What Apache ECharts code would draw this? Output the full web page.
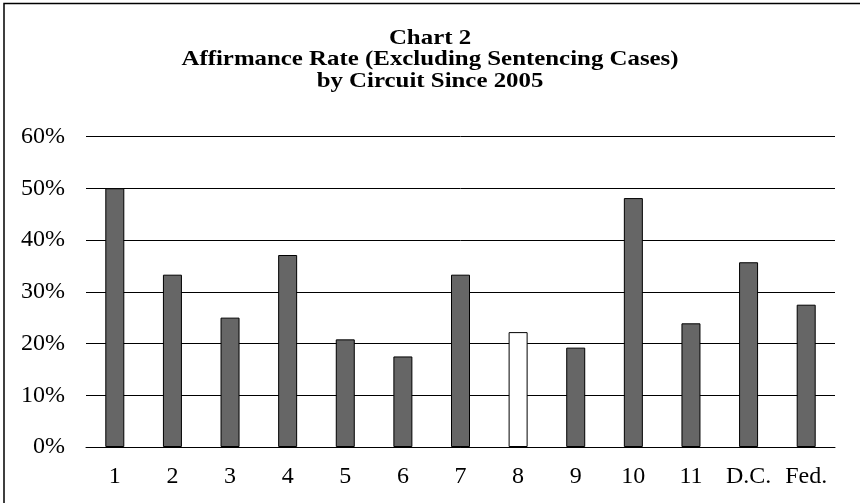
<!DOCTYPE html>
<html>
<head>
<meta charset="utf-8">
<script src="https://cdn.jsdelivr.net/npm/echarts@6/dist/echarts.min.js"></script>
<style>
html,body{margin:0;padding:0;background:#fff;}
#chart{width:860px;height:503px;}
</style>
</head>
<body>
<div id="chart"></div>
<script>
var titleLines = ['Chart 2', 'Affirmance Rate (Excluding Sentencing Cases)', 'by Circuit Since 2005'];
var categories = ['1','2','3','4','5','6','7','8','9','10','11','D.C.','Fed.'];
var rates = [50.0, 33.3, 25.0, 37.1, 20.8, 17.5, 33.3, 22.2, 19.2, 48.1, 23.9, 35.7, 27.5];
var highlightIndex = 7;
var yTicks = [0, 10, 20, 30, 40, 50, 60];

var chart = echarts.init(document.getElementById('chart'), null, {renderer: 'canvas'});
var font = '"Liberation Serif", "Times New Roman", serif';
chart.setOption({
  backgroundColor: '#fff',
  animation: false,
  graphic: [{
    type: 'rect',
    shape: {x: 4, y: 3.5, width: 900, height: 600},
    style: {fill: 'none', stroke: '#000', lineWidth: 1.5},
    silent: true
  }, {
    type: 'text',
    x: 430,
    y: 27.5,
    scaleX: 1.13,
    scaleY: 1,
    silent: true,
    style: {
      x: 0, y: 0,
      text: titleLines.join('\n'),
      font: 'bold 22px ' + font,
      fill: '#000',
      align: 'center',
      verticalAlign: 'top',
      textAlign: 'center',
      textVerticalAlign: 'top',
      lineHeight: 21.5
    }
  }],
  grid: {left: 86, right: 25, top: 136.5, bottom: 56, containLabel: false},
  xAxis: {
    type: 'category',
    data: categories,
    axisLine: {show: true, lineStyle: {color: '#000', width: 1}},
    axisTick: {show: false},
    axisLabel: {fontFamily: font, fontSize: 24, color: '#000', margin: 18, interval: 0}
  },
  yAxis: {
    type: 'value',
    min: yTicks[0],
    max: yTicks[yTicks.length - 1],
    interval: 10,
    axisLine: {show: false},
    axisTick: {show: false},
    splitLine: {show: true, lineStyle: {color: '#000', width: 1}},
    axisLabel: {fontFamily: font, fontSize: 24, color: '#000', margin: 21, formatter: '{value}%'}
  },
  series: [{
    type: 'bar',
    barWidth: 19,
    data: rates.map(function (v, i) {
      return {
        value: v,
        itemStyle: {color: i === highlightIndex ? '#fff' : '#666666', borderColor: '#000', borderWidth: 1}
      };
    })
  }]
});
</script>
</body>
</html>
